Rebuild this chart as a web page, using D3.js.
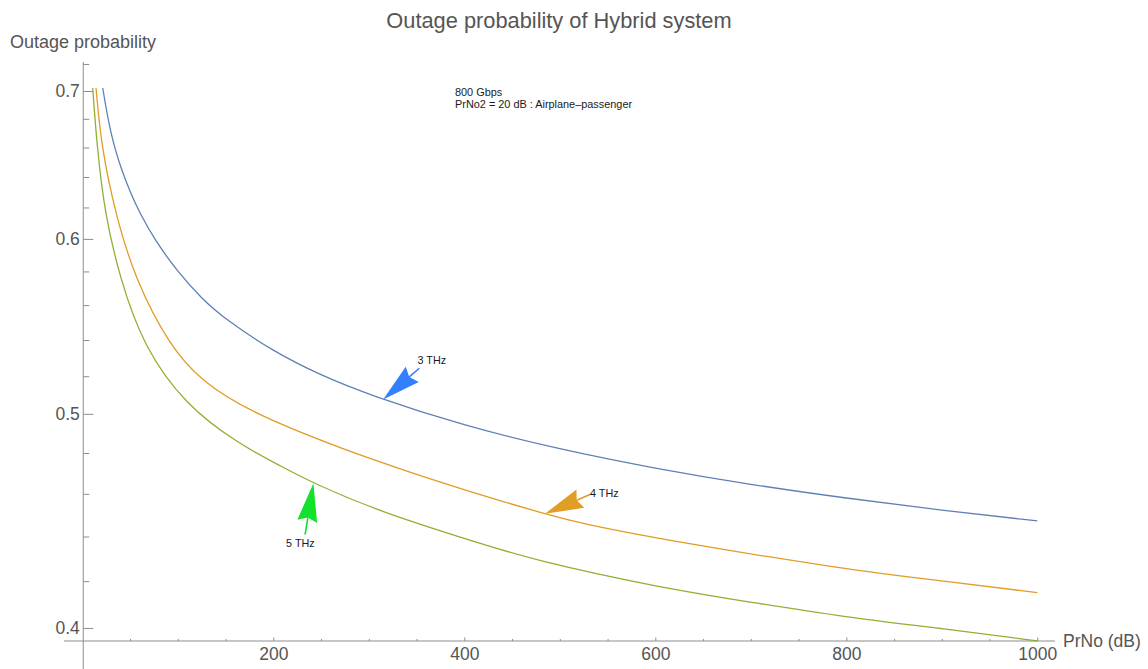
<!DOCTYPE html>
<html>
<head>
<meta charset="utf-8">
<script src="https://cdn.jsdelivr.net/npm/d3@7"></script>
<style>
body { margin: 0; background: #fff; }
svg { display: block; font-family: "Liberation Sans", Arial, sans-serif; }
</style>
</head>
<body>
<svg id="chart"></svg>
<script>
// values
const blueX = [21.4, 25, 30, 35, 40, 50, 60, 75, 100, 125, 150, 200, 250, 300, 400, 500, 600, 700, 800, 900, 1000];
const blueY = [0.7022, 0.687, 0.670, 0.6575, 0.647, 0.630, 0.6167, 0.6001, 0.5796, 0.5638, 0.5517, 0.5336, 0.5204, 0.5100, 0.4938, 0.4818, 0.4723, 0.4644, 0.4579, 0.4522, 0.4472];

const orangeX = [14.35, 19.9, 34.55, 55.5, 92.15, 123.6, 175.9, 311.7, 416.4, 486.3, 521.2, 625.9, 799.7, 898.1, 1000];
const orangeY = [0.7022, 0.6606, 0.6162, 0.5749, 0.5363, 0.518, 0.5003, 0.4749, 0.4595, 0.4503, 0.4461, 0.4372, 0.4252, 0.4202, 0.415];

const greenX = [10.9, 15.39, 23.46, 39.8, 64.3, 107.9, 163.8, 209.1, 241.9, 311.7, 416.4, 472.3, 600, 699.2, 799.7, 898.1, 1000];
const greenY = [0.7022, 0.6606, 0.6162, 0.5749, 0.5363, 0.5047, 0.4845, 0.4732, 0.4651, 0.4515, 0.4369, 0.4294, 0.4176, 0.4109, 0.4045, 0.3999, 0.3946];

const seriesNames = ['3 THz', '4 THz', '5 THz'];
const calloutX = [315, 484.5, 242];

const yMajorTicks = [0.4, 0.5, 0.6, 0.7];
const yMinorTicks = [0.42, 0.44, 0.46, 0.48, 0.52, 0.54, 0.56, 0.58, 0.62, 0.64, 0.66, 0.68, 0.72];
const xMajorTicks = [200, 400, 600, 800, 1000];
const xMinorTicks = [50, 100, 150, 250, 300, 350, 450, 500, 550, 650, 700, 750, 850, 900, 950];

const noteLines = ['800 Gbps', 'PrNo2 = 20 dB : Airplane\u2013passenger'];

let width = 1148, height = 669;

const svg = d3.select('#chart').attr('width', width).attr('height', height);

let x = d3.scaleLinear().domain([0, 1000]).range([82.3, 1037.3]);
let y = d3.scaleLog().domain([0.3946, 0.7022]).range([641, 88]);

const axisColor = '#8e8e8e';
const labelColor = '#555';

const series = [
  {name: seriesNames[0], xs: blueX, ys: blueY, color: '#5e81b5', arrow: '#3380ff', tail: [36.2, -31.2], lab: [34.4, -35.7]},
  {name: seriesNames[1], xs: orangeX, ys: orangeY, color: '#e19c24', arrow: '#e09e26', tail: [46.7, -20], lab: [45, -16.7]},
  {name: seriesNames[2], xs: greenX, ys: greenY, color: '#8fb032', arrow: '#12e22c', tail: [-8.3, 51.3], lab: [-27.3, 64]}
];

// axes lines
svg.append('line')
  .attr('x1', 64).attr('x2', 1055)
  .attr('y1', y(0.3946)).attr('y2', y(0.3946))
  .attr('stroke', axisColor);
svg.append('line')
  .attr('x1', x(1)).attr('x2', x(1))
  .attr('y1', 62).attr('y2', height)
  .attr('stroke', axisColor);

// y ticks
let yMinor = g => g
  .attr('transform', `translate(${x(1)},0)`)
  .call(d3.axisLeft(y).tickValues(yMinorTicks).tickSize(-6).tickFormat(''))
  .call(g => g.select('.domain').remove());

let yMajor = g => g
  .attr('transform', `translate(${x(1)},0)`)
  .call(d3.axisLeft(y).tickValues(yMajorTicks).tickSize(-10).tickPadding(3.5).tickFormat(d3.format('.1f')))
  .call(g => g.select('.domain').remove());

let xMinor = g => g
  .attr('transform', `translate(0,${y(0.3946)})`)
  .call(d3.axisBottom(x).tickValues(xMinorTicks).tickSize(-2).tickFormat(''))
  .call(g => g.select('.domain').remove());

let xMajor = g => g
  .attr('transform', `translate(0,${y(0.3946)})`)
  .call(d3.axisBottom(x).tickValues(xMajorTicks).tickSize(-3.5).tickPadding(6.6).tickFormat(d3.format('d')))
  .call(g => g.select('.domain').remove());

[yMinor, yMajor, xMinor, xMajor].forEach(f => {
  const g = svg.append('g').call(f);
  g.attr('color', axisColor);
  g.selectAll('text')
    .attr('fill', labelColor)
    .attr('font-size', 17.5)
    .attr('font-family', '"Liberation Sans", Arial, sans-serif');
});

// clip
svg.append('clipPath').attr('id', 'plotclip')
  .append('rect')
  .attr('x', x(0)).attr('y', y(0.7022) - 1)
  .attr('width', x(1000) - x(0) + 2).attr('height', y(0.3946) - y(0.7022) + 3);

let line = d3.line()
  .x(d => x(d[0]))
  .y(d => y(d[1]))
  .curve(d3.curveBasis);

svg.append('g').attr('clip-path', 'url(#plotclip)')
  .selectAll('path')
  .data(series)
  .join('path')
  .attr('d', s => line(s.xs.map((v, i) => [v, s.ys[i]])))
  .attr('fill', 'none')
  .attr('stroke', s => s.color)
  .attr('stroke-width', 1.3);

// callout arrows
series.forEach((s, i) => {
  const interp = d3.scaleLinear().domain(s.xs).range(s.ys);
  const cx = calloutX[i];
  const tip = [x(cx), y(interp(cx))];
  const end = [tip[0] + s.tail[0], tip[1] + s.tail[1]];
  const len = Math.hypot(s.tail[0], s.tail[1]);
  const u = [s.tail[0] / len, s.tail[1] / len];
  const n = [-u[1], u[0]];
  const L = 38.5, W = 10, notch = 34.5;
  const pt = (a, b) => [tip[0] + u[0] * a + n[0] * b, tip[1] + u[1] * a + n[1] * b];
  const head = [tip, pt(L, W), pt(notch, 0), pt(L, -W)];
  const g = svg.append('g');
  g.append('line')
    .attr('x1', pt(notch, 0)[0]).attr('y1', pt(notch, 0)[1])
    .attr('x2', end[0]).attr('y2', end[1])
    .attr('stroke', s.arrow).attr('stroke-width', 1.6);
  g.append('path')
    .attr('d', 'M' + head.map(p => p.join(',')).join('L') + 'Z')
    .attr('fill', s.arrow);
  g.append('text')
    .attr('x', tip[0] + s.lab[0]).attr('y', tip[1] + s.lab[1])
    .attr('font-size', 10.8)
    .attr('fill', '#1a1a1a')
    .text(s.name);
});

// note text
svg.append('g').selectAll('text')
  .data(noteLines)
  .join('text')
  .attr('x', 455)
  .attr('y', (d, i) => 95.5 + i * 12)
  .attr('font-size', 10.9)
  .attr('fill', '#1a1a1a')
  .text(d => d);

// titles
svg.append('text')
  .attr('x', 559).attr('y', 28)
  .attr('text-anchor', 'middle')
  .attr('font-size', 21.8)
  .attr('fill', labelColor)
  .text('Outage probability of Hybrid system');

svg.append('text')
  .attr('x', 10).attr('y', 48)
  .attr('font-size', 18)
  .attr('fill', labelColor)
  .text('Outage probability');

svg.append('text')
  .attr('x', 1063).attr('y', 647)
  .attr('font-size', 17.5)
  .attr('fill', labelColor)
  .text('PrNo (dB)');
</script>
</body>
</html>
